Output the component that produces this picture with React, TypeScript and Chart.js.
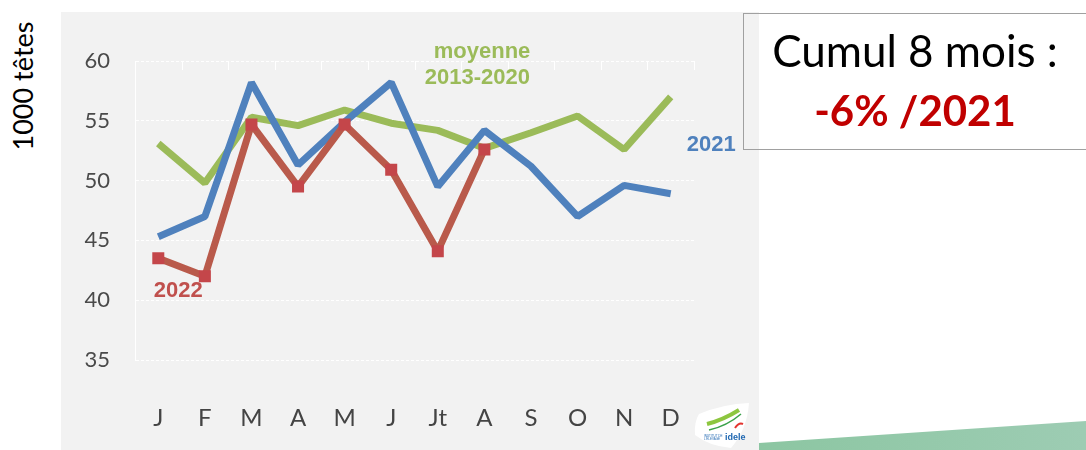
import React, { useEffect, useRef } from "react";
import { Chart, registerables } from "chart.js";

Chart.register(...registerables);

// ---- data ----
const months = ["J", "F", "M", "A", "M", "J", "Jt", "A", "S", "O", "N", "D"];
const moyenne = [53.1, 49.8, 55.3, 54.6, 55.9, 54.8, 54.2, 52.7, 54.0, 55.4, 52.6, 57.0];
const y2021 = [45.3, 47.0, 58.2, 51.3, 54.9, 58.2, 49.5, 54.2, 51.2, 47.0, 49.6, 48.9];
const y2022 = [43.5, 42.0, 54.7, 49.5, 54.7, 50.9, 44.1, 52.6];
const yTicks = [35, 40, 45, 50, 55, 60];

// series annotations (text, category position, value)
const annotations = [
  { text: "moyenne", x: 6.95, y: 60.75, color: "#9bbb59" },
  { text: "2013-2020", x: 6.85, y: 58.6, color: "#9bbb59" },
  { text: "2021", x: 11.87, y: 53.0, color: "#4f81bd" },
  { text: "2022", x: 0.43, y: 40.8, color: "#c0504d" },
];

const decorPlugin = {
  id: "decor",
  beforeDatasetsDraw(chart: any) {
    const { ctx, chartArea } = chart;
    const xs = chart.scales.x;
    ctx.save();
    ctx.strokeStyle = "#ffffff";
    ctx.lineWidth = 1;
    for (let i = 0; i <= months.length; i++) {
      const x = Math.round(xs.getPixelForValue(i - 0.5)) + 0.5;
      ctx.beginPath();
      ctx.moveTo(x, chartArea.top);
      ctx.lineTo(x, chartArea.top + 9);
      ctx.stroke();
    }
    ctx.restore();
  },
  afterDraw(chart: any) {
    const { ctx } = chart;
    const xs = chart.scales.x;
    const ys = chart.scales.y;
    ctx.save();
    ctx.textAlign = "center";
    ctx.textBaseline = "middle";
    ctx.font = "bold 22px 'Liberation Sans', Arial, sans-serif";
    for (const a of annotations) {
      ctx.fillStyle = a.color;
      ctx.fillText(a.text, xs.getPixelForValue(a.x), ys.getPixelForValue(a.y));
    }
    ctx.restore();
  },
};

function LineChart() {
  const ref = useRef<HTMLCanvasElement | null>(null);
  useEffect(() => {
    if (!ref.current) return;
    const chart = new Chart(ref.current, {
      type: "line",
      data: {
        labels: months,
        datasets: [
          {
            label: "2022",
            data: y2022,
            borderColor: "#b95a4b",
            backgroundColor: "#c4464a",
            borderWidth: 7,
            pointStyle: "rect",
            pointRadius: 8.5,
            pointBorderWidth: 0,
            pointBackgroundColor: "#c4464a",
            tension: 0,
            borderJoinStyle: "bevel",
          },
          {
            label: "2021",
            data: y2021,
            borderColor: "#4f81bd",
            borderWidth: 7,
            pointRadius: 0,
            tension: 0,
            borderJoinStyle: "bevel",
          },
          {
            label: "moyenne 2013-2020",
            data: moyenne,
            borderColor: "#9bbb59",
            borderWidth: 7,
            pointRadius: 0,
            tension: 0,
            borderJoinStyle: "bevel",
          },
        ],
      },
      options: {
        animation: false,
        responsive: false,
        layout: { padding: { top: 49, right: 65, left: 0, bottom: 0 } },
        plugins: { legend: { display: false }, tooltip: { enabled: false } },
        scales: {
          x: {
            offset: true,
            grid: { display: false, drawTicks: false },
            border: { display: false },
            ticks: {
              color: "#444444",
              padding: 44,
              font: { family: "Lato, 'DejaVu Sans', sans-serif", size: 24 },
              maxRotation: 0,
              autoSkip: false,
            },
            afterFit: (s: any) => {
              s.height = 90;
            },
          },
          y: {
            min: 35,
            max: 60,
            afterBuildTicks: (s: any) => {
              s.ticks = yTicks.map((v) => ({ value: v }));
            },
            grid: { color: "#ffffff", lineWidth: 1, drawTicks: false },
            border: { display: true, color: "#ffffff", width: 1, dash: [3, 2] },
            ticks: {
              color: "#4a4a4a",
              padding: 25,
              font: { family: "Lato, 'DejaVu Sans', sans-serif", size: 22 },
            },
            afterFit: (s: any) => {
              s.width = 74;
            },
          },
        },
      },
      plugins: [decorPlugin],
    } as any);
    return () => chart.destroy();
  }, []);
  return <canvas ref={ref} width={698} height={438} style={{ display: "block" }} />;
}

export default function App() {
  return (
    <div
      style={{
        position: "fixed",
        left: 0,
        top: 0,
        width: 1086,
        height: 450,
        background: "#ffffff",
        overflow: "hidden",
      }}
    >
      {/* y axis title */}
      <div
        style={{
          position: "absolute",
          left: 22,
          top: 86,
          transform: "translate(-50%, -50%) rotate(-90deg)",
          whiteSpace: "nowrap",
          fontFamily: "Lato, 'Liberation Sans', sans-serif",
          fontSize: 27,
          color: "#000",
          lineHeight: 1,
        }}
      >
        1000 têtes
      </div>

      {/* grey panel with chart */}
      <div
        style={{
          position: "absolute",
          left: 61,
          top: 12,
          width: 698,
          height: 438,
          background: "#f2f2f2",
        }}
      >
        <LineChart />
      </div>

      {/* logo */}
      <svg
        style={{ position: "absolute", left: 693, top: 402 }}
        width={58}
        height={47}
        viewBox="0 0 58 47"
      >
        <path d="M6,12 Q30,2 56,1 Q54,28 38,46 Q16,44 2,33 Q1,20 6,12 Z" fill="#ffffff" />
        <path d="M14,22 Q30,18 46,8" stroke="#8dc63f" strokeWidth={4} fill="none" />
        <path d="M16,28 Q34,24 48,12" stroke="#3aa14a" strokeWidth={1.5} fill="none" />
        <path d="M42,26 Q46,20 50,22" stroke="#e3342f" strokeWidth={2} fill="none" />
        <text x={32} y={38} fontSize={9} fontWeight="bold" fill="#1f67b1" fontFamily="'Liberation Sans', sans-serif">
          idele
        </text>
        <text x={11} y={35} fontSize={3} fill="#1f67b1" fontFamily="'Liberation Sans', sans-serif">
          INSTITUT DE
        </text>
        <text x={11} y={38} fontSize={3} fill="#1f67b1" fontFamily="'Liberation Sans', sans-serif">
          L'ÉLEVAGE
        </text>
      </svg>

      {/* green band */}
      <div
        style={{
          position: "absolute",
          left: 759,
          top: 420,
          width: 327,
          height: 30,
          background: "linear-gradient(90deg, #8cc6a2, #9dccb3)",
          clipPath: "polygon(0 23px, 100% 1px, 100% 100%, 0 100%)",
        }}
      />

      {/* text box */}
      <div
        style={{
          position: "absolute",
          left: 743,
          top: 13,
          width: 360,
          height: 137,
          boxSizing: "border-box",
          border: "1px solid #a0a0a0",
        }}
      />
      <div
        style={{
          position: "absolute",
          left: 743,
          width: 344,
          top: 24,
          textAlign: "center",
          fontFamily: "Lato, 'Liberation Sans', sans-serif",
          fontSize: 44,
          lineHeight: "53px",
          color: "#000",
          whiteSpace: "nowrap",
        }}
      >
        Cumul 8 mois :
      </div>
      <div
        style={{
          position: "absolute",
          left: 743,
          width: 344,
          top: 85,
          textAlign: "center",
          fontFamily: "Lato, 'Liberation Sans', sans-serif",
          fontSize: 42,
          fontWeight: "bold",
          lineHeight: "51px",
          color: "#c00000",
          whiteSpace: "nowrap",
        }}
      >
        -6% /2021
      </div>
    </div>
  );
}
